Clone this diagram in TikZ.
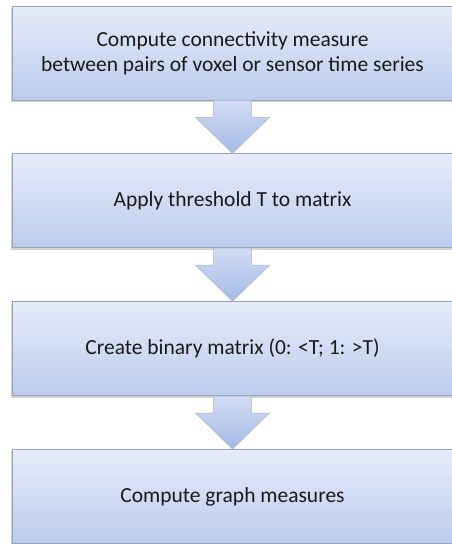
\documentclass[tikz,border=0pt]{standalone}
\usepackage{fontspec}
\setmainfont{Carlito}
\usetikzlibrary{positioning,calc,shadows}

\definecolor{boxtop}{HTML}{E6EBF8}
\definecolor{boxbot}{HTML}{BCCCEE}
\definecolor{arrtop}{HTML}{D2DCF4}
\definecolor{arrbot}{HTML}{A4BAE6}
\definecolor{boxline}{HTML}{98A3B6}
\definecolor{txt}{HTML}{1A1A1A}

\tikzset{
  stepbox/.style={rectangle, draw=boxline, line width=0.8pt,
    top color=boxtop, bottom color=boxbot,
    drop shadow={shadow xshift=-1.5pt, shadow yshift=-2pt, opacity=0.35},
    minimum width=441pt, minimum height=94pt, inner sep=0pt,
    align=center, text=txt, font=\fontsize{21.5}{25}\selectfont},
  flowarrow/.style={draw=boxline!80, line width=0.5pt,
    top color=arrtop, bottom color=arrbot}
}

% block arrow from box #1 down to box #2
\newcommand{\flowarrow}[2]{
  \path[flowarrow] ($(#1.south)+(-19pt,0)$) -- ($(#1.south)+(-19pt,-17pt)$)
    -- ($(#1.south)+(-37pt,-17pt)$) -- (#2.north)
    -- ($(#1.south)+(37pt,-17pt)$) -- ($(#1.south)+(19pt,-17pt)$)
    -- ($(#1.south)+(19pt,0)$) -- cycle;
}

\begin{document}
\begin{tikzpicture}
  \useasboundingbox (0,0) rectangle (451pt,-544pt);

  \node[stepbox] (conn) at (232.5pt,-53pt)
    {Compute connectivity measure\\between pairs of voxel or sensor time series};
  \node[stepbox, below=53pt of conn] (thresh) {Apply threshold T to matrix};
  \node[stepbox, below=53pt of thresh] (binary) {Create binary matrix (0: <T; 1: >T)};
  \node[stepbox, below=53pt of binary] (graph) {Compute graph measures};

  \flowarrow{conn}{thresh}
  \flowarrow{thresh}{binary}
  \flowarrow{binary}{graph}
\end{tikzpicture}
\end{document}
